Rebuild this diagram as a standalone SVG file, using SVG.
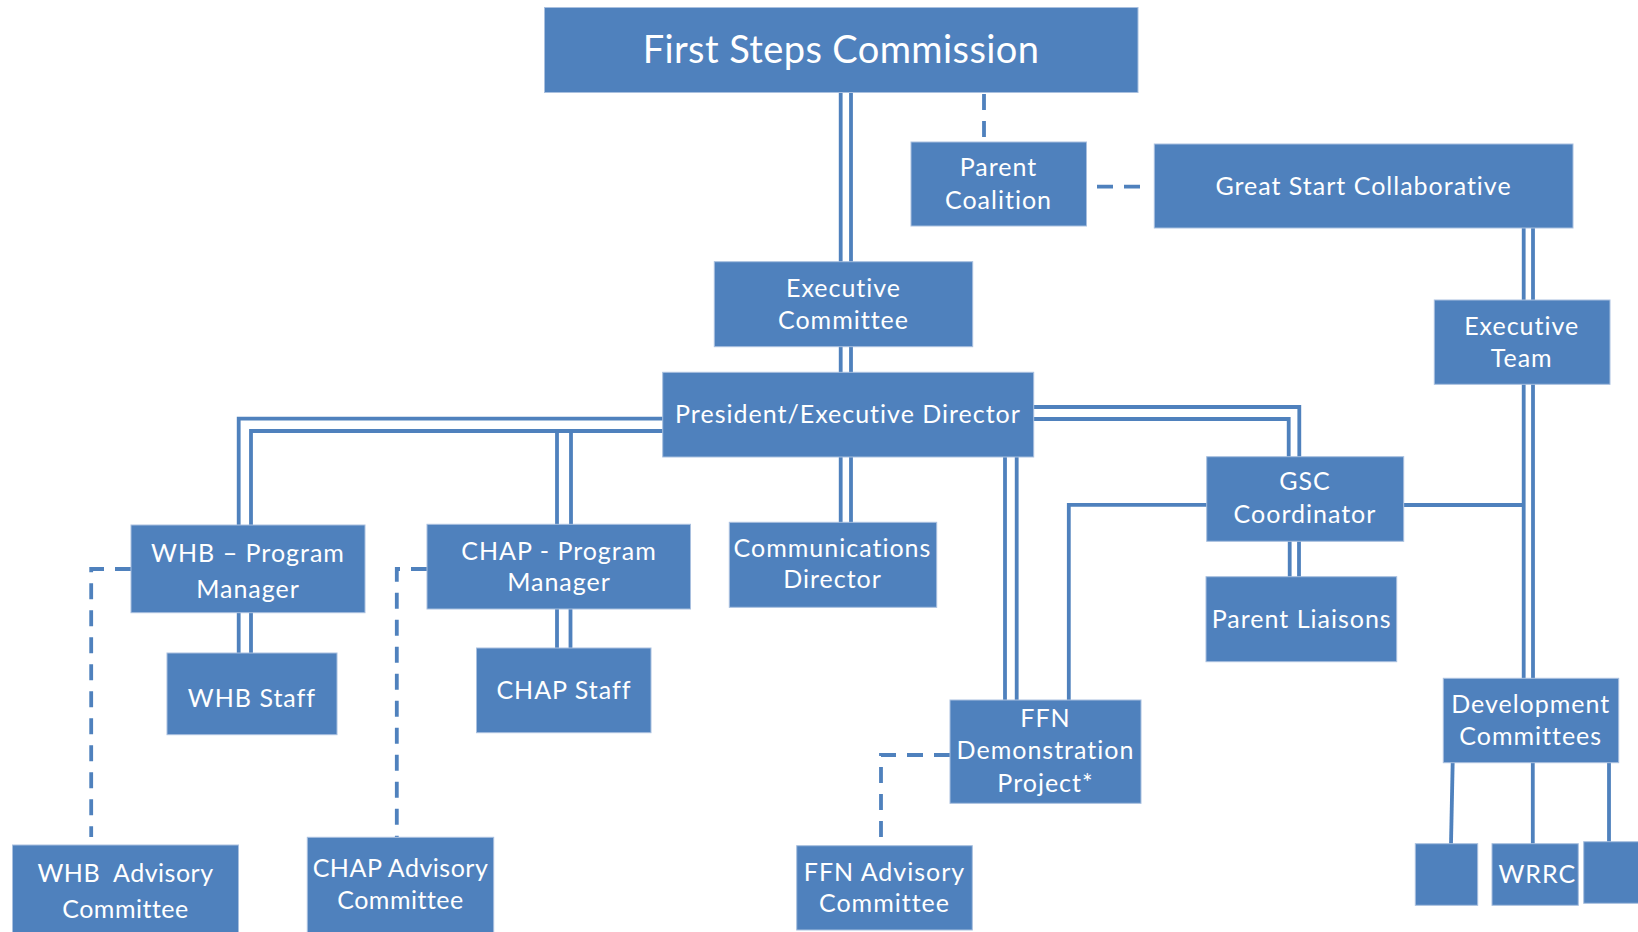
<svg xmlns="http://www.w3.org/2000/svg" width="1638" height="932" viewBox="0 0 1638 932">
<style>
.box{fill:#4F81BD;stroke:#A9C0DF;stroke-width:1}
.t{font-family:Lato,"Open Sans","Liberation Sans",sans-serif;fill:#FFFFFF;text-anchor:middle;font-size:25px;letter-spacing:1px}
.big{font-size:38px;letter-spacing:0.4px}
.n{letter-spacing:0.5px}
.c{fill:none;stroke:#4F81BD;stroke-width:3.8}
.d{fill:none;stroke:#4F81BD;stroke-width:3.8;stroke-dasharray:16 11}
</style>
<rect width="1638" height="932" fill="#FFFFFF"/>
<g id="connectors">
<line class="c" x1="840.7" y1="92" x2="840.7" y2="262"/>
<line class="c" x1="851" y1="92" x2="851" y2="262"/>
<line class="c" x1="840.7" y1="346" x2="840.7" y2="373"/>
<line class="c" x1="851" y1="346" x2="851" y2="373"/>
<line class="c" x1="840.7" y1="456" x2="840.7" y2="523"/>
<line class="c" x1="851" y1="456" x2="851" y2="523"/>
<line class="c" x1="1005" y1="456" x2="1005" y2="701"/>
<line class="c" x1="1016.7" y1="456" x2="1016.7" y2="701"/>
<polyline class="c" points="663,418.7 238.7,418.7 238.7,526"/>
<polyline class="c" points="663,431 251,431 251,526"/>
<line class="c" x1="238.7" y1="612" x2="238.7" y2="654"/>
<line class="c" x1="251" y1="612" x2="251" y2="654"/>
<line class="c" x1="557" y1="431" x2="557" y2="525"/>
<line class="c" x1="571" y1="431" x2="571" y2="525"/>
<line class="c" x1="557" y1="608" x2="557" y2="649"/>
<line class="c" x1="570.5" y1="608" x2="570.5" y2="649"/>
<polyline class="c" points="1033,407 1299.3,407 1299.3,457"/>
<polyline class="c" points="1033,419 1288.7,419 1288.7,457"/>
<line class="c" x1="1289.7" y1="541" x2="1289.7" y2="577"/>
<line class="c" x1="1299" y1="541" x2="1299" y2="577"/>
<polyline class="c" points="1207,504.8 1068.8,504.8 1068.8,701"/>
<line class="c" x1="1403.7" y1="505" x2="1523.7" y2="505"/>
<line class="c" x1="1523.7" y1="227" x2="1523.7" y2="301"/>
<line class="c" x1="1533" y1="227" x2="1533" y2="301"/>
<line class="c" x1="1523.7" y1="384" x2="1523.7" y2="679"/>
<line class="c" x1="1533" y1="384" x2="1533" y2="679"/>
<line class="c" x1="1452.7" y1="762" x2="1451" y2="844"/>
<line class="c" x1="1532.8" y1="762" x2="1532.8" y2="844"/>
<line class="c" x1="1609" y1="762" x2="1609" y2="842"/>
<line class="d" x1="984" y1="92" x2="984" y2="142" stroke-dashoffset="-2"/>
<line class="d" x1="1097" y1="186.7" x2="1141" y2="186.7"/>
<polyline class="d" points="131,569 91.2,569 91.2,837"/>
<polyline class="d" points="427,569 396.8,569 396.8,837"/>
<polyline class="d" points="950,755 881,755 881,846"/>
</g>
<g id="n-fsc"><rect class="box" x="544.5" y="7.5" width="593.5" height="85"/><text class="t big" x="841" y="63">First Steps Commission</text></g>
<g id="n-parent-coalition"><rect class="box" x="911" y="142" width="175.5" height="84"/><text class="t" x="998.5" y="175.7">Parent</text><text class="t" x="998.5" y="209.3">Coalition</text></g>
<g id="n-great-start"><rect class="box" x="1154.3" y="144" width="418.7" height="84"/><text class="t" x="1363.5" y="195">Great Start Collaborative</text></g>
<g id="n-exec-committee"><rect class="box" x="714.3" y="261.7" width="258.4" height="85"/><text class="t" x="843.5" y="296.7">Executive</text><text class="t" x="843.5" y="329">Committee</text></g>
<g id="n-exec-team"><rect class="box" x="1434.3" y="300" width="175.7" height="84.3"/><text class="t" x="1521.7" y="335">Executive</text><text class="t" x="1521.7" y="366.7">Team</text></g>
<g id="n-president"><rect class="box" x="662.7" y="372.3" width="371" height="84.7"/><text class="t" x="848" y="423.3">President/Executive Director</text></g>
<g id="n-gsc-coordinator"><rect class="box" x="1206.7" y="456.7" width="197" height="84.6"/><text class="t" x="1305" y="490">GSC</text><text class="t" x="1305" y="523.3">Coordinator</text></g>
<g id="n-parent-liaisons"><rect class="box" x="1206" y="576.7" width="190.7" height="85"/><text class="t" x="1301.7" y="627.7">Parent Liaisons</text></g>
<g id="n-whb-pm"><rect class="box" x="131" y="525" width="234" height="87.7"/><text class="t" x="248" y="561.7">WHB – Program</text><text class="t" x="248" y="598">Manager</text></g>
<g id="n-whb-staff"><rect class="box" x="167" y="653" width="170" height="81.7"/><text class="t" x="252" y="707.3">WHB Staff</text></g>
<g id="n-chap-pm"><rect class="box" x="427" y="524.3" width="263.5" height="84.7"/><text class="t" x="559" y="559.5">CHAP - Program</text><text class="t" x="559" y="591">Manager</text></g>
<g id="n-chap-staff"><rect class="box" x="476.5" y="648" width="174.5" height="84.7"/><text class="t" x="564" y="698.5">CHAP Staff</text></g>
<g id="n-comm-director"><rect class="box" x="729.3" y="522.3" width="207.4" height="85"/><text class="t" x="832.5" y="556.7">Communications</text><text class="t" x="832.5" y="588.3">Director</text></g>
<g id="n-ffn"><rect class="box" x="950" y="700" width="191" height="103.3"/><text class="t" x="1045.5" y="727.3">FFN</text><text class="t" x="1045.5" y="759.3">Demonstration</text><text class="t" x="1045.5" y="791.7">Project*</text></g>
<g id="n-whb-adv"><rect class="box" x="12.5" y="845" width="226" height="88"/><text class="t n" x="125.5" y="881.7" xml:space="preserve">WHB  Advisory</text><text class="t n" x="125.5" y="918">Committee</text></g>
<g id="n-chap-adv"><rect class="box" x="307.3" y="837.3" width="186.4" height="96"/><text class="t n" x="400.5" y="876.7">CHAP Advisory</text><text class="t n" x="400.5" y="909">Committee</text></g>
<g id="n-ffn-adv"><rect class="box" x="796.7" y="845.7" width="175.6" height="84.3"/><text class="t" x="884.5" y="880.7">FFN Advisory</text><text class="t" x="884.5" y="912">Committee</text></g>
<g id="n-dev"><rect class="box" x="1443.3" y="678.3" width="175.4" height="84.4"/><text class="t" x="1530.7" y="712.7">Development</text><text class="t" x="1530.7" y="745">Committees</text></g>
<g id="n-box1"><rect class="box" x="1415.3" y="843.7" width="62.4" height="61.6"/></g>
<g id="n-wrrc"><rect class="box" x="1492" y="843.7" width="86.3" height="61.6"/><text class="t" x="1537.3" y="882.7">WRRC</text></g>
<g id="n-box3"><rect class="box" x="1583.7" y="841.7" width="60" height="61.6"/></g>
</svg>
